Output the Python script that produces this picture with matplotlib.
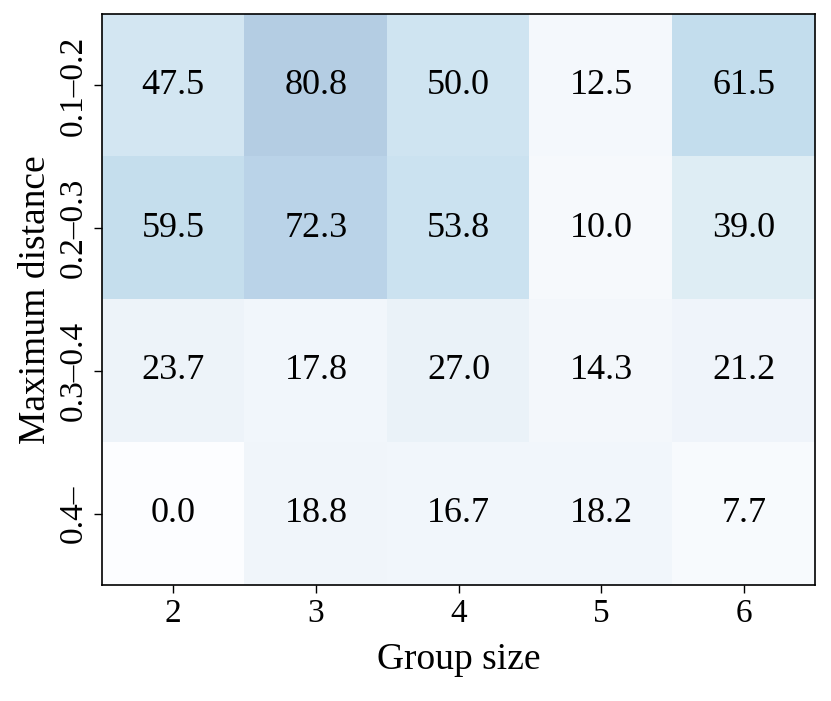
import numpy as np
import matplotlib.pyplot as plt

group_sizes = ["2", "3", "4", "5", "6"]
distance_bins = ["0.1\u20130.2", "0.2\u20130.3", "0.3\u20130.4", "0.4\u2013"]
values = np.array([
    [47.5, 80.8, 50.0, 12.5, 61.5],
    [59.5, 72.3, 53.8, 10.0, 39.0],
    [23.7, 17.8, 27.0, 14.3, 21.2],
    [0.0, 18.8, 16.7, 18.2, 7.7],
])

plt.rcParams['font.family'] = ['Liberation Serif', 'DejaVu Serif']


def main():
    fig = plt.figure(figsize=(8.31, 7.01), dpi=100)
    ax = fig.add_axes([102 / 831, 116 / 701, 713 / 831, 571 / 701])

    ax.imshow(values, cmap='Blues', vmin=0, vmax=100, alpha=0.32, aspect='auto')

    for i in range(values.shape[0]):
        for j in range(values.shape[1]):
            ax.text(j, i, f"{values[i, j]:.1f}", ha='center', va='center',
                    fontsize=26, color='black')

    ax.set_xticks(range(len(group_sizes)))
    ax.set_xticklabels(group_sizes, fontsize=24)
    ax.set_yticks(range(len(distance_bins)))
    ax.set_yticklabels(distance_bins, fontsize=24, rotation=90, va='center')
    ax.tick_params(length=6, width=1)
    ax.set_xlabel('Group size', fontsize=27, labelpad=10)
    ax.set_ylabel('Maximum distance', fontsize=27, labelpad=4)
    for s in ax.spines.values():
        s.set_linewidth(1.2)

    fig.savefig('out.png', dpi=100)


if __name__ == "__main__":
    main()
